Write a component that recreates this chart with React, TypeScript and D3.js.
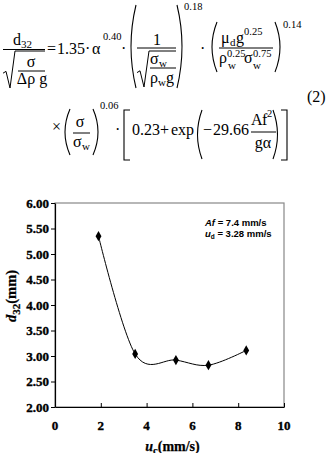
import React, { useEffect, useRef } from 'react';
import * as d3 from 'd3';

// measured droplet size vs continuous phase velocity
const ucValues = [1.9, 3.5, 5.28, 6.7, 8.35];
const d32Values = [5.35, 3.04, 2.92, 2.82, 3.11];
const xTickValues = [0, 2, 4, 6, 8, 10];
const yTickValues = [2, 2.5, 3, 3.5, 4, 4.5, 5, 5.5, 6];
const noteLines = ['Af = 7.4 mm/s', 'ud = 3.28 mm/s'];

const serif = '"Liberation Serif", "Times New Roman", serif';
const sans = '"Liberation Sans", Arial, sans-serif';

function chartRegion() {
    let opts: any = {};
    opts.left = 55;
    opts.right = 284;
    opts.top = 203;
    opts.bottom = 407;
    return opts;
}

function T(props: any) {
    const { x, y, s = 16, children, ...rest } = props;
    return <text x={x} y={y} fontSize={s} fontFamily={serif} {...rest}>{children}</text>;
}

function ParenL({ x0, x1, y0, y1 }: any) {
    return <path d={`M${x1},${y0} Q${x0 - 2},${(y0 + y1) / 2} ${x1},${y1}`} fill="none" stroke="#000" strokeWidth={1.1} />;
}
function ParenR({ x0, x1, y0, y1 }: any) {
    return <path d={`M${x0},${y0} Q${x1 + 2},${(y0 + y1) / 2} ${x0},${y1}`} fill="none" stroke="#000" strokeWidth={1.1} />;
}
function Bar({ x0, x1, y }: any) {
    return <line x1={x0} x2={x1} y1={y} y2={y} stroke="#000" strokeWidth={1} />;
}
function Sqrt({ x, y0, y1, x1 }: any) {
    const h = y1 - y0;
    return <path d={`M${x},${y0 + h * 0.6} L${x + 3},${y0 + h * 0.55} L${x + 7},${y1} L${x + 12},${y0} L${x1},${y0}`}
        fill="none" stroke="#000" strokeWidth={1} />;
}

function Equation() {
    return (
        <g>
            {/* line 1 */}
            <T x={13} y={45}>d</T>
            <T x={21} y={48} s={11}>32</T>
            <Bar x0={3} x1={45} y={49.5} />
            <Sqrt x={3} y0={51} y1={88} x1={45} />
            <T x={31} y={67} textAnchor="middle">σ</T>
            <Bar x0={18} x1={45} y={71} />
            <T x={32} y={84} textAnchor="middle">Δρ g</T>
            <T x={47} y={54}>=</T>
            <T x={57} y={54}>1.35</T>
            <T x={85} y={54}>·</T>
            <T x={92} y={54}>α</T>
            <T x={103} y={40} s={10.5}>0.40</T>
            <T x={121} y={54}>·</T>
            <ParenL x0={128} x1={136} y0={5} y1={88} />
            <T x={157} y={45} textAnchor="middle">1</T>
            <Bar x0={137} x1={176} y={48} />
            <Sqrt x={137} y0={51} y1={87} x1={176} />
            <T x={150} y={64}>σ</T>
            <T x={159} y={67} s={11}>w</T>
            <Bar x0={150} x1={176} y={68} />
            <T x={150} y={83}>ρ</T>
            <T x={158} y={86} s={11}>w</T>
            <T x={166} y={83}>g</T>
            <ParenR x0={177} x1={185} y0={5} y1={88} />
            <T x={184} y={10} s={10.5}>0.18</T>
            <T x={200} y={54}>·</T>
            <ParenL x0={209} x1={217} y0={22} y1={72} />
            <T x={221} y={43}>μ</T>
            <T x={230} y={46} s={11}>d</T>
            <T x={236} y={43}>g</T>
            <T x={244} y={35} s={10.5}>0.25</T>
            <Bar x0={219} x1={273} y={48} />
            <T x={219} y={63}>ρ</T>
            <T x={227} y={57} s={10.5}>0.25</T>
            <T x={228} y={69} s={11}>w</T>
            <T x={244} y={63}>σ</T>
            <T x={253} y={57} s={10.5}>0.75</T>
            <T x={253} y={69} s={11}>w</T>
            <ParenR x0={275} x1={283} y0={22} y1={72} />
            <T x={283} y={28} s={10.5}>0.14</T>
            <T x={307} y={102}>(2)</T>
            {/* line 2 */}
            <T x={52} y={132}>×</T>
            <ParenL x0={62} x1={70} y0={109} y1={155} />
            <T x={80} y={127} textAnchor="middle">σ</T>
            <Bar x0={73} x1={90} y={133} />
            <T x={73} y={147}>σ</T>
            <T x={82} y={150} s={11}>w</T>
            <ParenR x0={93} x1={101} y0={109} y1={155} />
            <T x={100} y={109} s={10.5}>0.06</T>
            <T x={115} y={135}>·</T>
            <path d="M130,110 L124,110 L124,160 L130,160" fill="none" stroke="#000" strokeWidth={1.1} />
            <T x={132} y={135}>0.23</T>
            <T x={160} y={135}>+</T>
            <T x={171} y={135}>exp</T>
            <ParenL x0={195} x1={202} y0={110} y1={159} />
            <T x={203} y={135}>−</T>
            <T x={213} y={135}>29.66</T>
            <T x={251} y={125}>A</T>
            <T x={262} y={125}>f</T>
            <T x={267} y={117} s={10.5}>2</T>
            <Bar x0={251} x1={276} y={132} />
            <T x={263} y={148} textAnchor="middle">gα</T>
            <ParenR x0={273} x1={280} y0={110} y1={159} />
            <path d="M281,110 L287,110 L287,160 L281,160" fill="none" stroke="#000" strokeWidth={1.1} />
        </g>
    );
}

export default function App() {
    const ref = useRef<SVGGElement>(null);

    useEffect(() => {
        const g = d3.select(ref.current);
        g.selectAll('*').remove();
        const opts = chartRegion();

        const xScale = d3.scaleLinear().domain([0, 10]).range([opts.left, opts.right]);
        const yScale = d3.scaleLinear().domain([2, 6]).range([opts.bottom, opts.top]);

        // grey frame on top and right
        g.append('rect')
            .attr('x', opts.left)
            .attr('y', opts.top)
            .attr('width', opts.right - opts.left)
            .attr('height', opts.bottom - opts.top)
            .attr('fill', 'none')
            .attr('stroke', '#888')
            .attr('stroke-width', 1.2);

        // axes: lines and tick marks from d3, labels drawn below
        const yAxis = d3.axisLeft(yScale)
            .tickValues(yTickValues)
            .tickFormat(() => '')
            .tickSizeInner(4)
            .tickSizeOuter(0);
        const xAxis = d3.axisBottom(xScale)
            .tickValues(xTickValues)
            .tickFormat(() => '')
            .tickSizeInner(-4)
            .tickSizeOuter(0);

        const ya = g.append('g')
            .attr('transform', 'translate(' + opts.left + ',0)')
            .call(yAxis);
        const xa = g.append('g')
            .attr('transform', 'translate(0,' + opts.bottom + ')')
            .call(xAxis);
        [ya, xa].forEach((a) => {
            a.select('.domain').attr('stroke', '#000').attr('stroke-width', 1.2);
            a.selectAll('.tick line').attr('stroke', '#000');
        });

        const fmtY = d3.format('.2f');
        g.append('g')
            .selectAll('text')
            .data(yTickValues)
            .enter()
            .append('text')
            .attr('x', opts.left - 6)
            .attr('y', (v) => yScale(v) + 4.5)
            .attr('text-anchor', 'end')
            .attr('font-family', serif)
            .attr('font-weight', 'bold')
            .attr('font-size', 13)
            .attr('fill', '#000')
            .attr('stroke', '#000')
            .attr('stroke-width', 0.35)
            .text((v) => fmtY(v));
        g.append('g')
            .selectAll('text')
            .data(xTickValues)
            .enter()
            .append('text')
            .attr('x', (v) => xScale(v))
            .attr('y', opts.bottom + 23)
            .attr('text-anchor', 'middle')
            .attr('font-family', serif)
            .attr('font-weight', 'bold')
            .attr('font-size', 13)
            .attr('fill', '#000')
            .attr('stroke', '#000')
            .attr('stroke-width', 0.35)
            .text((v) => String(v));

        const points = ucValues.map((u, i) => ({ u: u, d: d32Values[i] }));
        const line = d3.line<any>()
            .x((p) => xScale(p.u))
            .y((p) => yScale(p.d))
            .curve(d3.curveCardinal.tension(0));
        g.append('path')
            .datum(points)
            .attr('d', line)
            .attr('fill', 'none')
            .attr('stroke', '#000')
            .attr('stroke-width', 1);

        g.selectAll('.pt')
            .data(points)
            .enter()
            .append('path')
            .attr('class', 'pt')
            .attr('d', d3.symbol().type(d3.symbolDiamond).size(30))
            .attr('transform', (p: any) => 'translate(' + xScale(p.u) + ',' + yScale(p.d) + ')')
            .attr('fill', '#000');

        // note box text
        const note = g.append('text')
            .attr('font-family', sans)
            .attr('font-weight', 'bold')
            .attr('font-size', 9.5);
        const l1 = note.append('tspan').attr('x', 205).attr('y', 226);
        l1.append('tspan').attr('font-style', 'italic').text(noteLines[0].slice(0, 2));
        l1.append('tspan').text(noteLines[0].slice(2));
        const l2 = note.append('tspan').attr('x', 205).attr('y', 237);
        l2.append('tspan').attr('font-style', 'italic').text('u');
        l2.append('tspan').attr('font-size', 6.5).attr('dy', 2).text('d');
        l2.append('tspan').attr('dy', -2).text(noteLines[1].slice(2));

        // axis titles
        const yt = g.append('text')
            .attr('transform', 'translate(16,' + ((opts.top + opts.bottom) / 2 - 9) + ') rotate(-90)')
            .attr('text-anchor', 'middle')
            .attr('font-family', serif)
            .attr('font-weight', 'bold')
            .attr('font-size', 14.5)
            .attr('stroke', '#000')
            .attr('stroke-width', 0.25);
        yt.append('tspan').attr('font-style', 'italic').text('d');
        yt.append('tspan').attr('font-size', 11).attr('dy', 4).text('32');
        yt.append('tspan').attr('dy', -4).text('(mm)');

        const xt = g.append('text')
            .attr('x', (opts.left + opts.right) / 2 + 3)
            .attr('y', 451)
            .attr('text-anchor', 'middle')
            .attr('font-family', serif)
            .attr('font-weight', 'bold')
            .attr('font-size', 14)
            .attr('stroke', '#000')
            .attr('stroke-width', 0.25);
        xt.append('tspan').attr('font-style', 'italic').text('u');
        xt.append('tspan').attr('font-size', 10.5).attr('dy', 3).text('c');
        xt.append('tspan').attr('dy', -3).text('(mm/s)');
    }, []);

    return (
        <svg width={333} height={453} style={{ position: 'absolute', left: 0, top: 0, background: '#fff' }}>
            <Equation />
            <g ref={ref} />
        </svg>
    );
}
